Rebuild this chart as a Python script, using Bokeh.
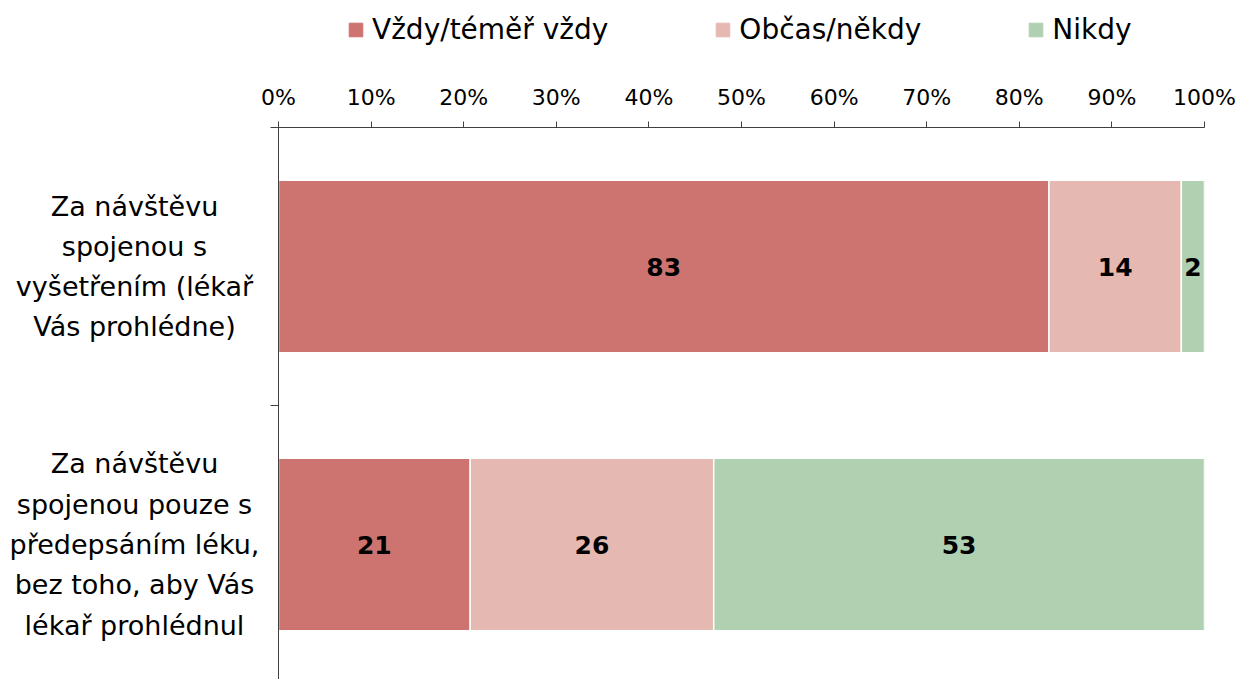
from bokeh.plotting import figure
from bokeh.layouts import column, row
from bokeh.models import (ColumnDataSource, Range1d, FixedTicker, Legend, LegendItem,
                          PrintfTickFormatter)
from bokeh.core.properties import value
from bokeh.embed import file_html
from bokeh.resources import INLINE

categories = ["Za návštěvu\nspojenou s\nvyšetřením (lékař\nVás prohlédne)",
              "Za návštěvu\nspojenou pouze s\npředepsáním léku,\nbez toho, aby Vás\nlékař prohlédnul"]
series = ["Vždy/téměř vždy", "Občas/někdy", "Nikdy"]
always = [83.2, 20.7]
sometimes = [14.3, 26.3]
never = [2.5, 53.0]
labels_always = ["83", "21"]
labels_sometimes = ["14", "26"]
labels_never = ["2", "53"]
colors = ["#CD7370", "#E6B8B2", "#AFD1B1"]
ypos = [1.5, 0.5]
x_ticks = [0, 10, 20, 30, 40, 50, 60, 70, 80, 90, 100]

FONT = "DejaVu Sans"

yr = Range1d(2 - 552 / 278, 2)

# ---------------- main plot ----------------
src = ColumnDataSource(dict(y=ypos, a=always, s=sometimes, n=never))

p = figure(width=978, height=619, x_range=Range1d(0, 100), y_range=yr,
           x_axis_location="above", output_backend="svg", toolbar_location=None,
           min_border_left=20, min_border_right=32, min_border_top=67,
           min_border_bottom=0)
p.outline_line_color = None
p.grid.visible = False

rs = p.hbar_stack(["a", "s", "n"], y="y", height=0.62, color=colors,
                  line_color="white", line_width=1.5, source=src)

def centers(*cols):
    out = []
    for i in range(len(ypos)):
        start = sum(c[i] for c in cols[:-1])
        out.append(start + cols[-1][i] / 2)
    return out

cx_a = centers(always)
cx_s = centers(always, sometimes)
cx_n = centers(always, sometimes, never)
for cx, lab in [(cx_a, labels_always), (cx_s, labels_sometimes), (cx_n, labels_never)]:
    p.text(x=cx, y=ypos, text=lab, text_align="center", text_baseline="middle",
           text_font=value(FONT), text_font_style="bold", text_font_size="25px",
           text_color="black")

xa = p.xaxis[0]
xa.ticker = FixedTicker(ticks=x_ticks)
xa.formatter = PrintfTickFormatter(format="%d%%")
xa.major_tick_in = 0
xa.major_tick_out = 6
xa.minor_tick_line_color = None
xa.axis_line_color = "#404040"
xa.major_tick_line_color = "#404040"
xa.major_label_text_font = FONT
xa.major_label_text_font_size = "22px"
xa.major_label_text_color = "black"
xa.major_label_standoff = 12

ya = p.yaxis[0]
ya.ticker = FixedTicker(ticks=[0, 1, 2])
ya.major_label_overrides = {0: "", 1: "", 2: ""}
ya.major_tick_in = 0
ya.major_tick_out = 8
ya.minor_tick_line_color = None
ya.axis_line_color = "#404040"
ya.major_tick_line_color = "#404040"

# ---------------- category labels ----------------
lf = figure(width=258, height=619, x_range=Range1d(0, 258), y_range=yr,
            output_backend="svg", toolbar_location=None,
            min_border_left=0, min_border_right=0, min_border_top=67,
            min_border_bottom=0)
lf.axis.visible = False
lf.grid.visible = False
lf.outline_line_color = None
lf.text(x=[134] * len(categories), y=ypos, text=categories, text_align="center",
        text_baseline="middle", text_font=value(FONT), text_font_size="27px",
        text_color="black", text_line_height=1.3)

# ---------------- legend ----------------
lg = figure(width=1236, height=60, x_range=Range1d(0, 100), y_range=Range1d(10, 11),
            output_backend="svg", toolbar_location=None,
            min_border_left=0, min_border_right=0, min_border_top=0,
            min_border_bottom=0)
lg.axis.visible = False
lg.grid.visible = False
lg.outline_line_color = None
lrs = lg.hbar_stack(["a", "s", "n"], y="y", height=0.62, color=colors, source=src)
legend = Legend(items=[LegendItem(label=s, renderers=[r]) for s, r in zip(series, lrs)],
                orientation="horizontal", location=(347, 14), spacing=106,
                glyph_width=17, glyph_height=17, label_standoff=8,
                label_text_font=FONT, label_text_font_size="28px",
                label_text_color="black",
                label_height=30, padding=0, margin=0,
                border_line_color=None, background_fill_alpha=0)
lg.add_layout(legend)

layout = column(lg, row(lf, p))
open("out.html", "w").write(file_html(layout, INLINE))
